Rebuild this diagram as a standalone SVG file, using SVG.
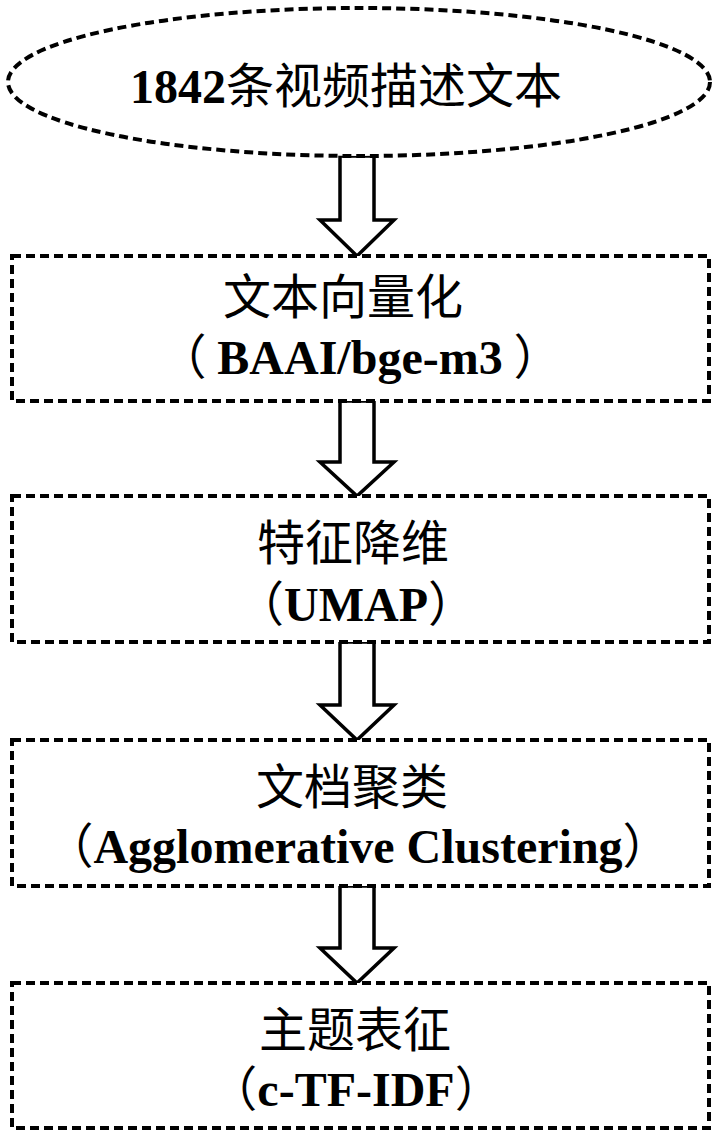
<svg xmlns="http://www.w3.org/2000/svg" width="720" height="1133" viewBox="0 0 720 1133">
<style>
.node{fill:#fff;stroke:#000;stroke-width:4;stroke-dasharray:9 5}
.arrow{fill:#fff;stroke:#000;stroke-width:3.5;stroke-linejoin:miter}
text{font-family:"Liberation Serif","Noto Sans CJK SC",serif;font-size:48px;fill:#000;text-anchor:middle}
.zh{font-family:"Noto Sans CJK SC","Liberation Serif",sans-serif;font-weight:normal}
.b{font-weight:bold}
</style>
<rect width="720" height="1133" fill="#fff"/>
<g id="connectors">
<polygon class="arrow" points="340,156 374,156 374,220 394,220 357,256 320,220 340,220"/>
<polygon class="arrow" points="340,401 374,401 374,462 394,462 357,496 320,462 340,462"/>
<polygon class="arrow" points="340,642 374,642 374,705 394,705 357,740 320,705 340,705"/>
<polygon class="arrow" points="340,886 374,886 374,948 394,948 357,983 320,948 340,948"/>
</g>
<g id="n0">
<ellipse class="node" cx="359" cy="82" rx="351" ry="74"/>
<text x="346" y="103"><tspan class="b">1842</tspan><tspan class="zh">条视频描述文本</tspan></text>
</g>
<g id="n1">
<rect class="node" x="12" y="256" width="697" height="145"/>
<text class="zh" x="343" y="314">文本向量化</text>
<text x="360" y="374"><tspan class="zh">（ </tspan><tspan class="b">BAAI/bge-m3</tspan><tspan class="zh"> ）</tspan></text>
</g>
<g id="n2">
<rect class="node" x="12" y="496" width="697" height="146"/>
<text class="zh" x="353" y="560">特征降维</text>
<text x="356" y="621"><tspan class="zh">（</tspan><tspan class="b">UMAP</tspan><tspan class="zh">）</tspan></text>
</g>
<g id="n3">
<rect class="node" x="12" y="740" width="697" height="146"/>
<text class="zh" x="352" y="804">文档聚类</text>
<text x="358" y="863"><tspan class="zh">（</tspan><tspan class="b">Agglomerative Clustering</tspan><tspan class="zh">）</tspan></text>
</g>
<g id="n4">
<rect class="node" x="12" y="983" width="697" height="145"/>
<text class="zh" x="355" y="1047">主题表征</text>
<text x="356" y="1106"><tspan class="zh">（</tspan><tspan class="b">c-TF-IDF</tspan><tspan class="zh">）</tspan></text>
</g>
</svg>
